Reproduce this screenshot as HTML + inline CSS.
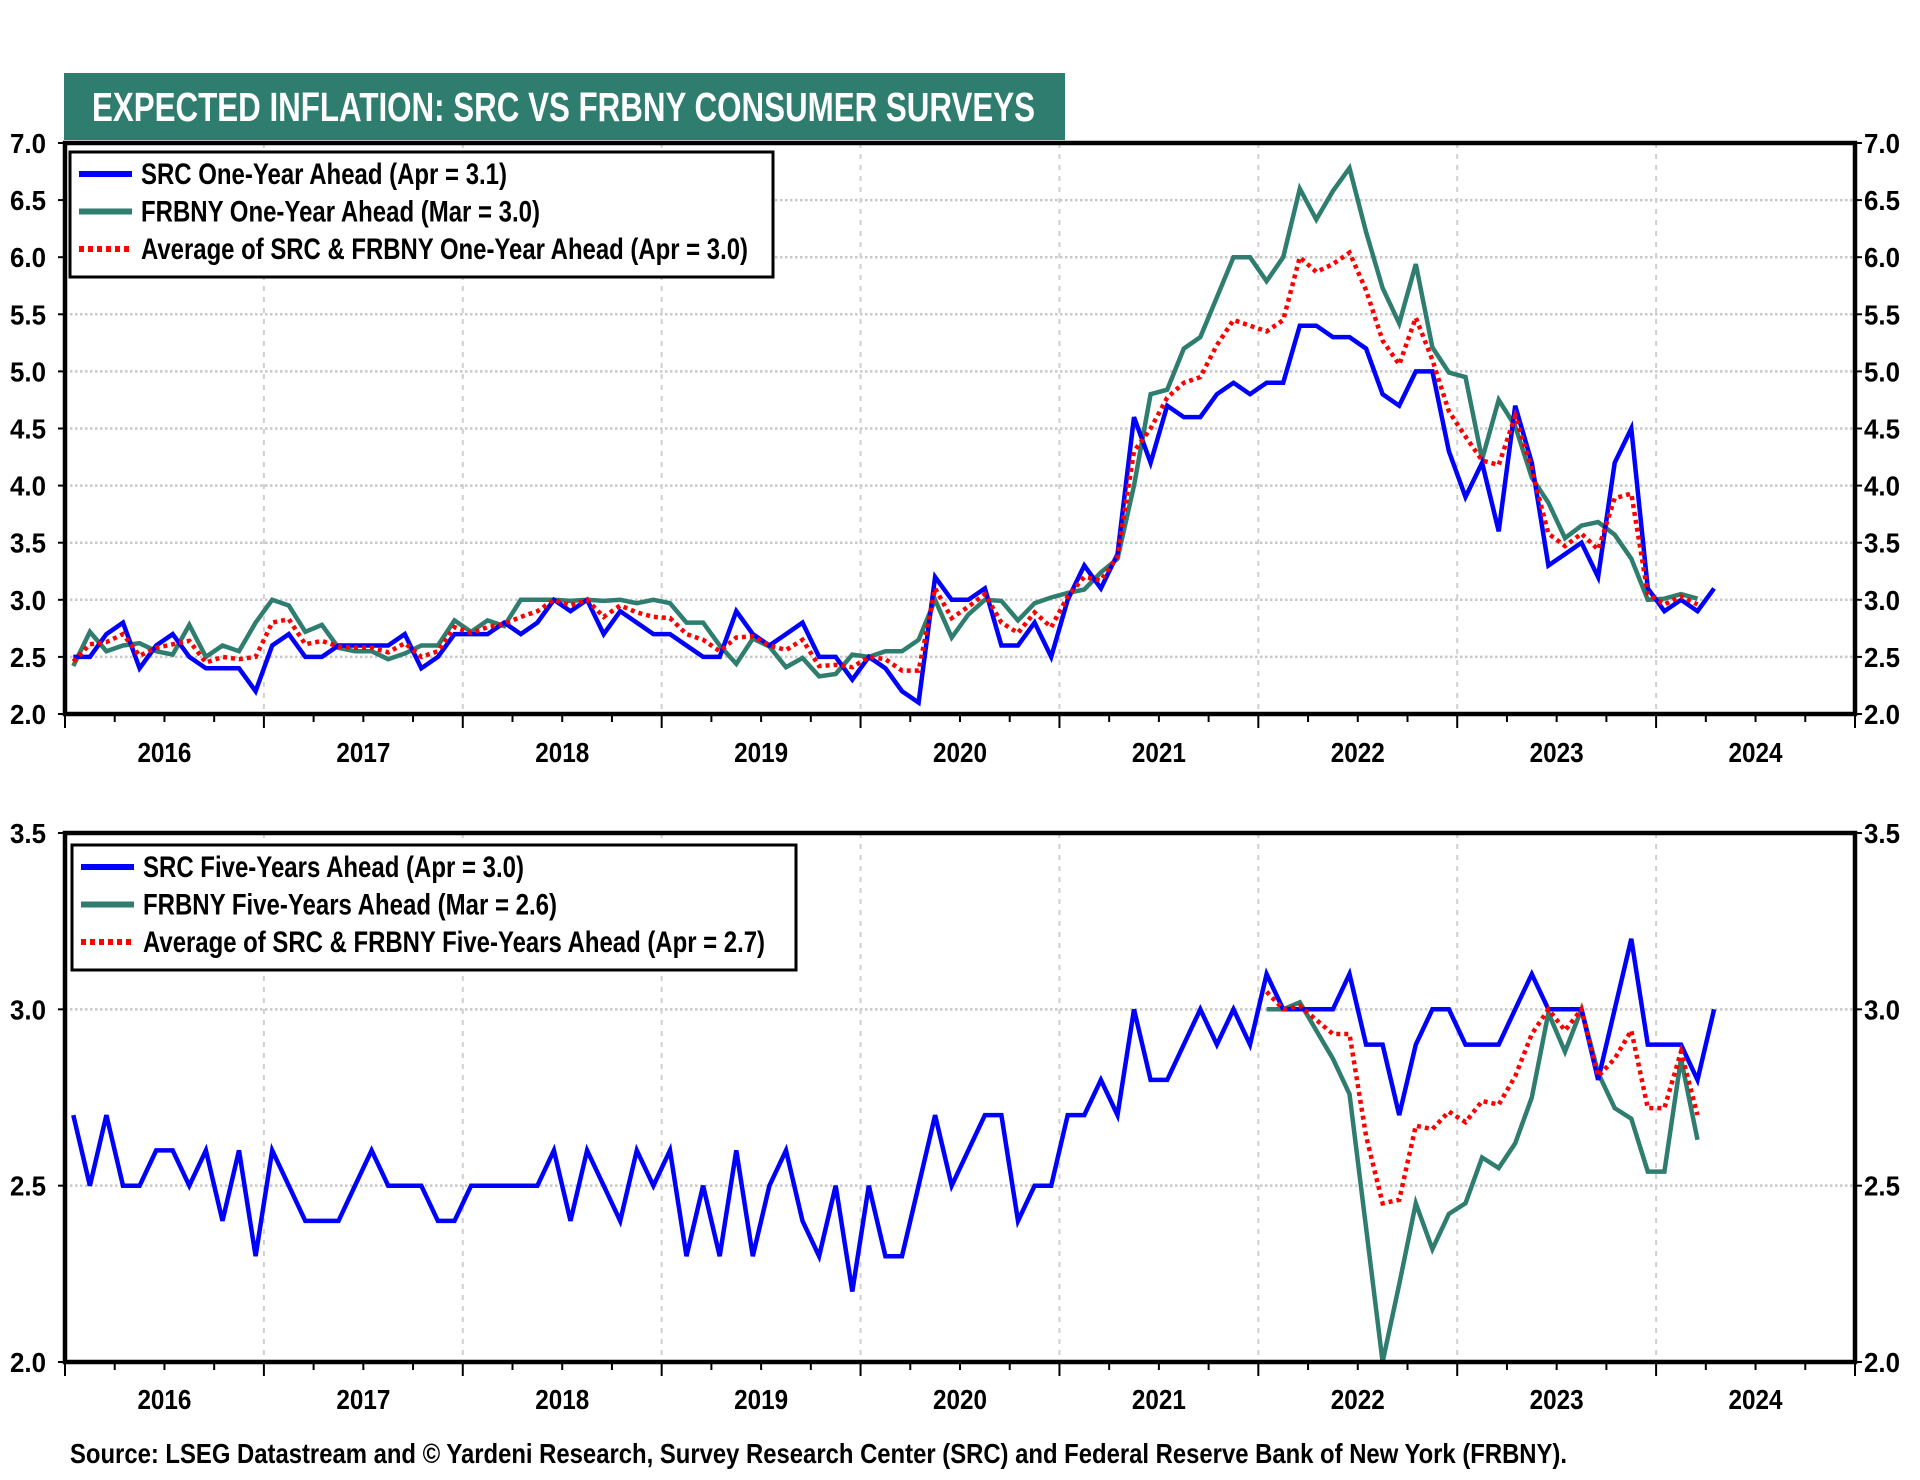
<!DOCTYPE html>
<html><head><meta charset="utf-8"><style>
html,body{margin:0;padding:0;background:#fff;}
svg{display:block;font-family:"Liberation Sans",Arial,sans-serif;}
</style></head><body>
<svg id="chart" width="1920" height="1480" viewBox="0 0 1920 1480">
<rect x="64" y="73" width="1001" height="67" fill="#2e7d6f"/>
<text x="92" y="121" fill="#fff" font-size="41" font-weight="bold" textLength="943" lengthAdjust="spacingAndGlyphs">EXPECTED INFLATION: SRC VS FRBNY CONSUMER SURVEYS</text>
<g id="top"></g>
<g id="bot"></g>
<text x="70" y="1463" font-size="28" font-weight="bold" textLength="1497" lengthAdjust="spacingAndGlyphs">Source: LSEG Datastream and © Yardeni Research, Survey Research Center (SRC) and Federal Reserve Bank of New York (FRBNY).</text>
</svg>
<script>
const years = ['2016','2017','2018','2019','2020','2021','2022','2023','2024'];
const topTicks = ['2.0','2.5','3.0','3.5','4.0','4.5','5.0','5.5','6.0','6.5','7.0'];
const botTicks = ['2.0','2.5','3.0','3.5'];
const src1 = [2.5,2.5,2.7,2.8,2.4,2.6,2.7,2.5,2.4,2.4,2.4,2.2,
 2.6,2.7,2.5,2.5,2.6,2.6,2.6,2.6,2.7,2.4,2.5,2.7,
 2.7,2.7,2.8,2.7,2.8,3.0,2.9,3.0,2.7,2.9,2.8,2.7,
 2.7,2.6,2.5,2.5,2.9,2.7,2.6,2.7,2.8,2.5,2.5,2.3,
 2.5,2.4,2.2,2.1,3.2,3.0,3.0,3.1,2.6,2.6,2.8,2.5,
 3.0,3.3,3.1,3.4,4.6,4.2,4.7,4.6,4.6,4.8,4.9,4.8,
 4.9,4.9,5.4,5.4,5.3,5.3,5.2,4.8,4.7,5.0,5.0,4.3,
 3.9,4.2,3.6,4.7,4.2,3.3,3.4,3.5,3.2,4.2,4.5,3.1,
 2.9,3.0,2.9,3.1];
const frb1 = [2.42,2.72,2.55,2.6,2.62,2.55,2.52,2.78,2.5,2.6,2.55,2.8,
 3.0,2.95,2.72,2.78,2.58,2.55,2.55,2.48,2.53,2.6,2.6,2.82,
 2.72,2.82,2.77,3.0,3.0,3.0,2.99,3.0,2.99,3.0,2.97,3.0,
 2.97,2.8,2.8,2.6,2.44,2.66,2.59,2.41,2.49,2.33,2.35,2.52,
 2.5,2.55,2.55,2.65,3.0,2.67,2.87,3.0,2.99,2.82,2.97,3.02,
 3.06,3.09,3.24,3.36,4.0,4.8,4.84,5.2,5.3,5.65,6.0,6.0,
 5.79,6.0,6.6,6.33,6.58,6.78,6.22,5.73,5.42,5.94,5.21,4.99,
 4.95,4.23,4.75,4.52,4.07,3.85,3.54,3.65,3.68,3.57,3.36,3.0,
 3.01,3.05,3.01];
const avg1 = [2.46,2.61,2.63,2.7,2.51,2.58,2.61,2.64,2.45,2.5,2.48,2.5,
 2.8,2.83,2.61,2.64,2.59,2.58,2.58,2.54,2.62,2.5,2.55,2.76,
 2.71,2.76,2.79,2.85,2.9,3.0,2.95,3.0,2.85,2.95,2.89,2.85,
 2.84,2.7,2.65,2.55,2.67,2.68,2.6,2.56,2.65,2.42,2.43,2.41,
 2.5,2.48,2.38,2.38,3.1,2.84,2.94,3.05,2.8,2.71,2.89,2.76,
 3.03,3.2,3.17,3.38,4.3,4.5,4.77,4.9,4.95,5.23,5.45,5.4,
 5.35,5.45,6.0,5.87,5.94,6.04,5.71,5.27,5.06,5.47,5.1,4.65,
 4.43,4.22,4.18,4.61,4.14,3.58,3.47,3.58,3.44,3.89,3.93,3.05,
 2.96,3.03,2.96];
const src5 = [2.7,2.5,2.7,2.5,2.5,2.6,2.6,2.5,2.6,2.4,2.6,2.3,
 2.6,2.5,2.4,2.4,2.4,2.5,2.6,2.5,2.5,2.5,2.4,2.4,
 2.5,2.5,2.5,2.5,2.5,2.6,2.4,2.6,2.5,2.4,2.6,2.5,
 2.6,2.3,2.5,2.3,2.6,2.3,2.5,2.6,2.4,2.3,2.5,2.2,
 2.5,2.3,2.3,2.5,2.7,2.5,2.6,2.7,2.7,2.4,2.5,2.5,
 2.7,2.7,2.8,2.7,3.0,2.8,2.8,2.9,3.0,2.9,3.0,2.9,
 3.1,3.0,3.0,3.0,3.0,3.1,2.9,2.9,2.7,2.9,3.0,3.0,
 2.9,2.9,2.9,3.0,3.1,3.0,3.0,3.0,2.8,3.0,3.2,2.9,
 2.9,2.9,2.8,3.0];
const frb5Start = 72;
const frb5 = [3.0,3.0,3.02,2.94,2.86,2.76,2.38,2.0,2.22,2.45,2.32,2.42,
 2.45,2.58,2.55,2.62,2.75,2.99,2.88,3.0,2.82,2.72,2.69,2.54,
 2.54,2.86,2.63];
const avg5 = [3.05,3.0,3.01,2.97,2.93,2.93,2.64,2.45,2.46,2.67,2.66,2.71,
 2.68,2.74,2.73,2.81,2.93,3.0,2.94,3.0,2.81,2.86,2.94,2.72,
 2.72,2.88,2.7];

const NS='http://www.w3.org/2000/svg';
function mk(parent,tag,attrs){const e=document.createElementNS(NS,tag);for(const k in attrs)e.setAttribute(k,attrs[k]);parent.appendChild(e);return e;}
const L=65,R=1855,MONTHS=108;
const xm = i => L + (i+0.5)*(R-L)/MONTHS;
const xy = y => L + y*(R-L)/9;

function panel(g,top,bot,ymin,ymax,ticks,series,legend,lbox,yearY){
  const ys = v => bot - (v-ymin)/(ymax-ymin)*(bot-top);
  ticks.forEach(t=>{
    const v=parseFloat(t);
    if(v>ymin && v<ymax){
      const gl=mk(g,'line',{x1:L,x2:R,y1:ys(v),y2:ys(v),stroke:'#c8c8c8','stroke-width':2.5,'stroke-dasharray':'2.5,2.5'});
      
      
    }
    const tl=mk(g,'text',{x:46,y:ys(v)+10,'font-size':28,'font-weight':'bold','text-anchor':'end',textLength:36,lengthAdjust:'spacingAndGlyphs'});
    tl.textContent=t;
    
    
    const tr=mk(g,'text',{x:1864,y:ys(v)+10,'font-size':28,'font-weight':'bold',textLength:36,lengthAdjust:'spacingAndGlyphs'});
    tr.textContent=t;
    
    
    mk(g,'line',{x1:L-7,x2:L,y1:ys(v),y2:ys(v),stroke:'#000','stroke-width':2});
    mk(g,'line',{x1:R,x2:R+7,y1:ys(v),y2:ys(v),stroke:'#000','stroke-width':2});
  });
  for(let y=1;y<9;y++){
    const vl=mk(g,'line',{x1:xy(y),x2:xy(y),y1:top,y2:bot,stroke:'#d0d0d0','stroke-width':2,'stroke-dasharray':'5,6'});
    
    
  }
  for(let q=0;q<=36;q++){
    const x=L+q*(R-L)/36;
    mk(g,'line',{x1:x,x2:x,y1:bot,y2:bot+(q%4===0?14:8),stroke:'#000','stroke-width':2});
  }
  years.forEach((yr,k)=>{
    const t=mk(g,'text',{x:xy(k+0.5),y:yearY,'font-size':28,'font-weight':'bold','text-anchor':'middle',textLength:54,lengthAdjust:'spacingAndGlyphs'});
    t.textContent=yr;
    
    
  });
  series.forEach(s=>{
    const pts=s.data.map((v,i)=>xm(i+s.start).toFixed(1)+','+ys(v).toFixed(1)).join(' ');
    const p=mk(g,'polyline',{points:pts,fill:'none',stroke:s.color,'stroke-width':s.w,'stroke-linejoin':'miter','stroke-dasharray':s.dash||'none'});
    
    
  });
  const fr=mk(g,'rect',{x:L,y:top,width:R-L,height:bot-top,fill:'none',stroke:'#000','stroke-width':4.5});
  
  
  const lb=mk(g,'g',{});
  
  
  mk(lb,'rect',{x:lbox[0],y:lbox[1],width:lbox[2],height:lbox[3],fill:'#fff',stroke:'#000','stroke-width':3});
  legend.forEach((e,k)=>{
    const cy=lbox[1]+22+k*37.5;
    mk(lb,'line',{x1:lbox[0]+9,x2:lbox[0]+62,y1:cy,y2:cy,stroke:e.color,'stroke-width':6,'stroke-dasharray':e.dash||'none'});
    const t=mk(lb,'text',{x:lbox[0]+71,y:cy+10,'font-size':30,'font-weight':'bold',textLength:e.tl,lengthAdjust:'spacingAndGlyphs'});
    t.textContent=e.label;
    
    
  });
}
panel(document.getElementById('top'),143,714,2,7,topTicks,[
  {data:frb1,start:0,color:'#2e7d6f',w:4.5,name:'frbny-one-year-line'},
  {data:src1,start:0,color:'#0000ff',w:4.5,name:'src-one-year-line'},
  {data:avg1,start:0,color:'#ff0000',w:4.5,dash:'4,4',name:'average-one-year-line'}
],[
  {label:'SRC One-Year Ahead (Apr = 3.1)',color:'#0000ff',tl:366},
  {label:'FRBNY One-Year Ahead (Mar = 3.0)',color:'#2e7d6f',tl:399},
  {label:'Average of SRC & FRBNY One-Year Ahead (Apr = 3.0)',color:'#ff0000',dash:'5,4',tl:607}
],[70,152,703,125],762);
panel(document.getElementById('bot'),833,1362,2,3.5,botTicks,[
  {data:frb5,start:frb5Start,color:'#2e7d6f',w:4.5,name:'frbny-five-year-line'},
  {data:src5,start:0,color:'#0000ff',w:4.5,name:'src-five-year-line'},
  {data:avg5,start:frb5Start,color:'#ff0000',w:4.5,dash:'4,4',name:'average-five-year-line'}
],[
  {label:'SRC Five-Years Ahead (Apr = 3.0)',color:'#0000ff',tl:381},
  {label:'FRBNY Five-Years Ahead (Mar = 2.6)',color:'#2e7d6f',tl:414},
  {label:'Average of SRC & FRBNY Five-Years Ahead (Apr = 2.7)',color:'#ff0000',dash:'5,4',tl:622}
],[72,845,724,125],1409);
</script>
</body></html>
